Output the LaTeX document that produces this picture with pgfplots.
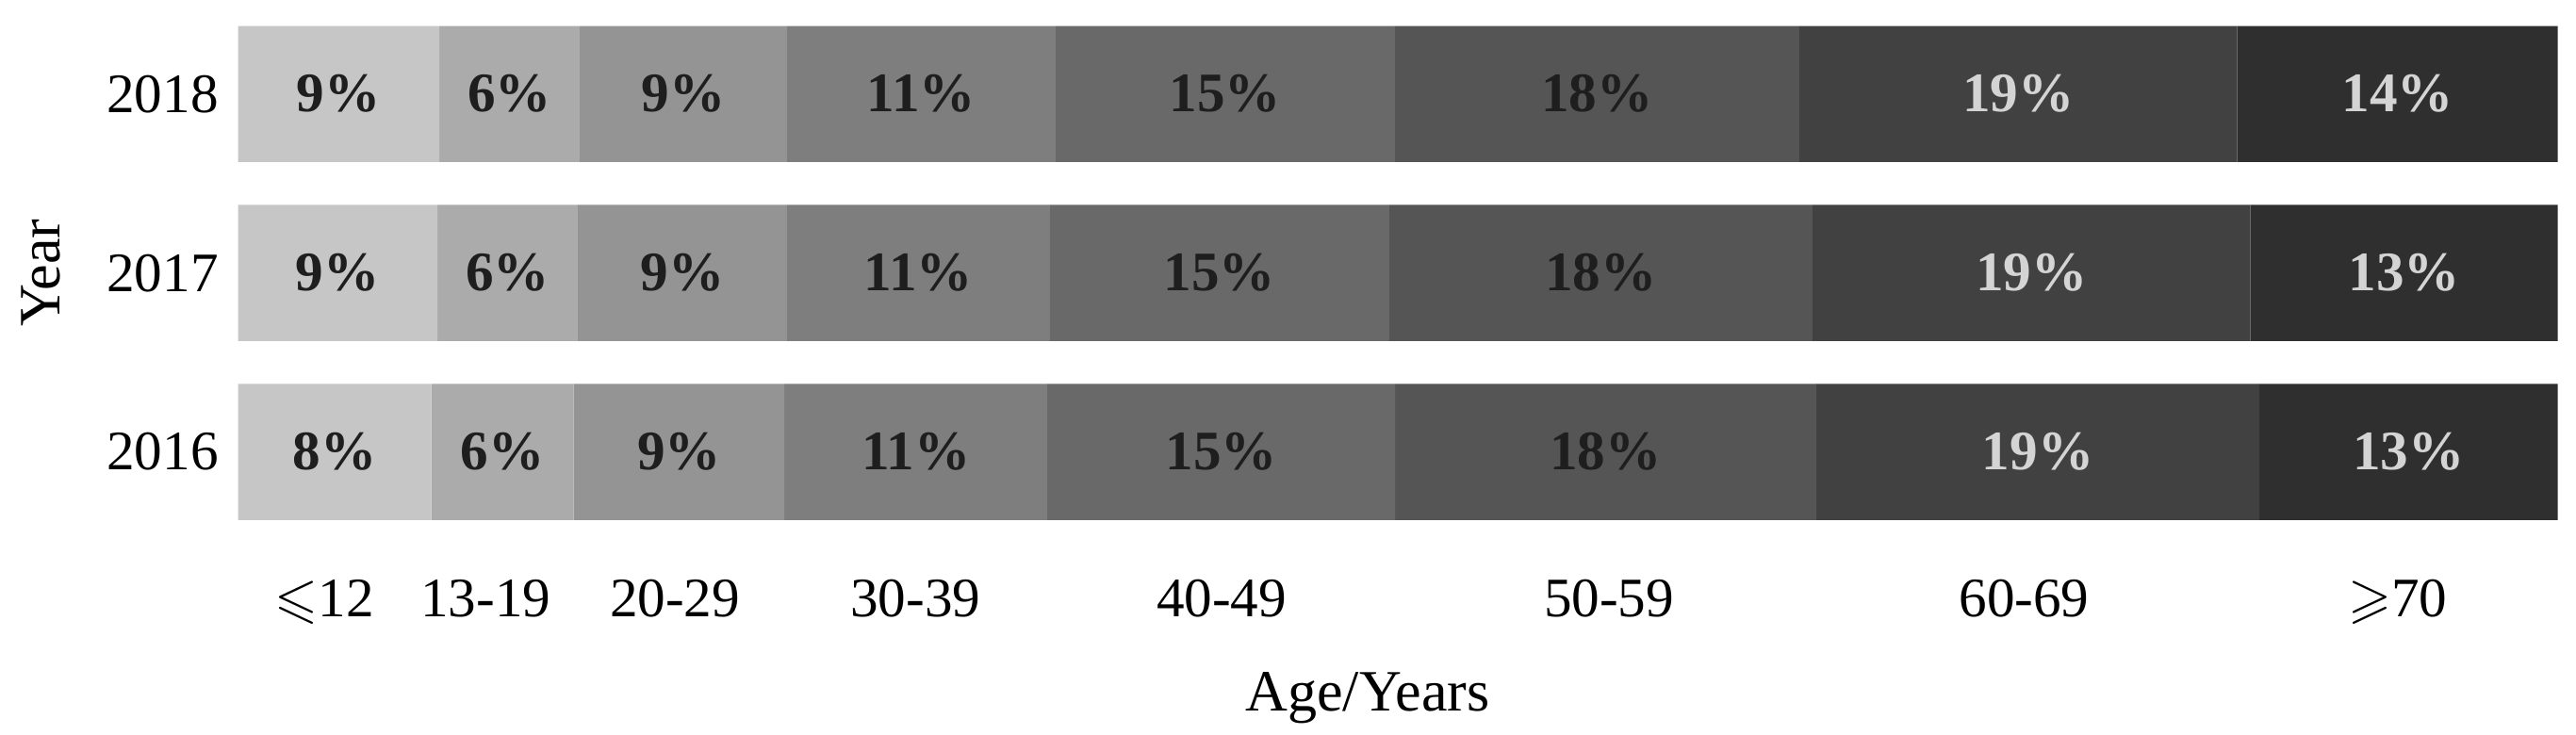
\documentclass[border=0pt]{standalone}
\usepackage{pgfplots}
\usepackage{pgfplotstable}
\usepackage{amssymb}
\usepackage{fontspec}
\setmainfont{Liberation Serif}
\pgfplotsset{compat=1.18}
\definecolor{g1}{HTML}{C6C6C6}
\definecolor{g2}{HTML}{ABABAB}
\definecolor{g3}{HTML}{949494}
\definecolor{g4}{HTML}{7E7E7E}
\definecolor{g5}{HTML}{696969}
\definecolor{g6}{HTML}{555555}
\definecolor{g7}{HTML}{414141}
\definecolor{g8}{HTML}{2F2F2F}
\definecolor{tdark}{HTML}{1E1E1E}
\definecolor{tlight}{HTML}{D4D4D4}
% segment widths (%) per year
\pgfplotstableread{
yr a1 a2 a3 a4 a5 a6 a7 a8
0 8.33 6.14 9.08 11.34 14.99 18.16 19.10 12.88
1 8.59 6.05 9.02 11.34 14.63 18.24 18.89 13.25
2 8.67 6.05 8.94 11.58 14.63 17.43 18.89 13.82
}\datatable
% label positions (segment centres) and printed labels
\pgfplotstableread{
yr c1 c2 c3 c4 c5 c6 c7 c8 l1 l2 l3 l4 l5 l6 l7 l8
0 4.165 11.40 19.01 29.22 42.385 58.96 77.59 93.58 8 6 9 11 15 18 19 13
1 4.295 11.615 19.15 29.33 42.315 58.75 77.315 93.385 9 6 9 11 15 18 19 13
2 4.335 11.695 19.19 29.45 42.555 58.585 76.745 93.10 9 6 9 11 15 18 19 14
}\labeltable
\pgfplotsset{common/.style={
  scale only axis,
  width=415.9pt, height=96.3pt,
  xmin=0, xmax=100,
  ymin=-0.5, ymax=2.5,
}}
\newcommand{\seg}[2]{%
\addplot[fill=#2, draw=none] table[x=a#1, y=yr] {\datatable};}
\newcommand{\lab}[2]{%
\addplot[draw=none, mark=none,
  nodes near coords={\pgfplotspointmeta\%},
  point meta=explicit symbolic,
  every node near coord/.append style={anchor=center, text=#2, font=\fontsize{10}{12}\selectfont\bfseries}]
  table[x=c#1, y=yr, meta=l#1] {\labeltable};}
\begin{document}
\begin{tikzpicture}
\begin{axis}[
  common,
  xbar stacked,
  bar width=0.76,
  ytick={0,1,2},
  yticklabels={2016,2017,2018},
  xtick={3.73,10.67,18.83,29.2,42.4,59.1,77.0,93.1},
  xticklabels={{$\leqslant$12},13-19,20-29,30-39,40-49,50-59,60-69,{$\geqslant$70}},
  axis line style={draw=none},
  major tick length=0pt,
  tick style={draw=none},
  yticklabel style={font=\fontsize{10}{12}\selectfont},
  xticklabel style={font=\fontsize{10}{12}\selectfont, yshift=-3.4pt},
  xlabel={Age/Years},
  ylabel={Year},
  xlabel style={font=\fontsize{10.5}{12}\selectfont, at={(axis description cs:0.487,-0.291)}, anchor=center},
  ylabel style={font=\fontsize{10.5}{12}\selectfont, at={(axis description cs:-0.085,0.5)}, anchor=center},
]
\seg{1}{g1}
\seg{2}{g2}
\seg{3}{g3}
\seg{4}{g4}
\seg{5}{g5}
\seg{6}{g6}
\seg{7}{g7}
\seg{8}{g8}
\end{axis}
\begin{axis}[common, hide axis]
\lab{1}{tdark}
\lab{2}{tdark}
\lab{3}{tdark}
\lab{4}{tdark}
\lab{5}{tdark}
\lab{6}{tdark}
\lab{7}{tlight}
\lab{8}{tlight}
\end{axis}
\pgfresetboundingbox
\path[use as bounding box] ([shift={(-42.7pt,-34.7pt)}]current axis.south west) rectangle ([shift={(419.2pt,97.1pt)}]current axis.south west);
\end{tikzpicture}
\end{document}
